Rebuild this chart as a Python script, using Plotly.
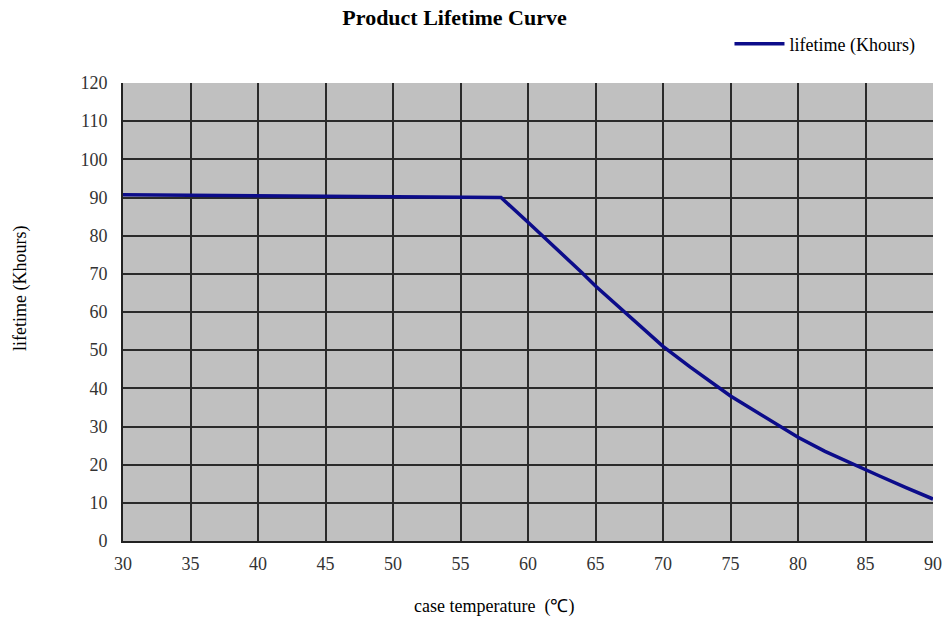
import plotly.graph_objects as go

temperature = [30, 58, 60, 62, 64, 65, 66, 68, 70, 72, 74, 75, 76, 78, 80, 82, 84, 85, 86, 88, 90]
lifetime = [90.7, 90.0, 83.5, 77.0, 70.3, 66.8, 63.6, 57.1, 51.0, 45.6, 40.6, 38.0, 35.8, 31.4, 27.2, 23.5, 20.2, 18.6, 17.1, 14.0, 11.0]

x_ticks = list(range(30, 91, 5))
y_ticks = list(range(0, 121, 10))

fig = go.Figure()
fig.add_trace(go.Scatter(
    x=temperature, y=lifetime, mode="lines",
    name="lifetime (Khours)",
    line=dict(color="#0c0c8a", width=3.5, shape="linear"),
))

serif = "Liberation Serif"
fig.update_layout(
    width=947, height=620,
    margin=dict(l=123, r=14, t=83, b=79, autoexpand=False),
    paper_bgcolor="white",
    plot_bgcolor="#c0c0c0",
    title=dict(text="<b>Product Lifetime Curve</b>", x=0.48, xanchor="center",
               y=0.972, yanchor="middle", yref="container",
               font=dict(family=serif, size=22, color="black")),
    showlegend=True,
    legend=dict(x=0.972, xanchor="right", y=0.929, yanchor="middle",
                xref="container", yref="container",
                bgcolor="rgba(0,0,0,0)", font=dict(family=serif, size=18, color="black"),
                itemwidth=50),
    font=dict(family=serif),
    annotations=[
        dict(text="case temperature\u00a0\u00a0(℃)", xref="paper", yref="paper",
             x=(494 - 123) / 810, y=(541 - 606) / 458, xanchor="center", yanchor="middle",
             showarrow=False, font=dict(family=serif, size=18, color="black")),
        dict(text="lifetime (Khours)", xref="paper", yref="paper",
             x=(20 - 123) / 810, y=(541 - 289) / 458, xanchor="center", yanchor="middle",
             textangle=-90, showarrow=False, font=dict(family=serif, size=18, color="black")),
    ],
)
fig.update_xaxes(
    range=[30, 90], tickvals=x_ticks, ticktext=[str(v) for v in x_ticks],
    showgrid=True, gridcolor="#2a2a2a", gridwidth=1.5,
    showline=True, linecolor="#222", linewidth=2,
    zeroline=False, ticks="", ticklabelstandoff=5, automargin=False,
    tickfont=dict(family=serif, size=18, color="#333"),
)
fig.update_yaxes(
    range=[0, 120], tickvals=y_ticks, ticktext=[str(v) for v in y_ticks],
    showgrid=True, gridcolor="#2a2a2a", gridwidth=1.5,
    showline=True, linecolor="#222", linewidth=2,
    zeroline=False, ticks="", ticklabelstandoff=10, automargin=False,
    tickfont=dict(family=serif, size=18, color="#333"),
)
fig.write_html("out.html", config={"displayModeBar": False},
               post_script="document.body.style.margin='0';document.body.style.overflow='hidden';")
